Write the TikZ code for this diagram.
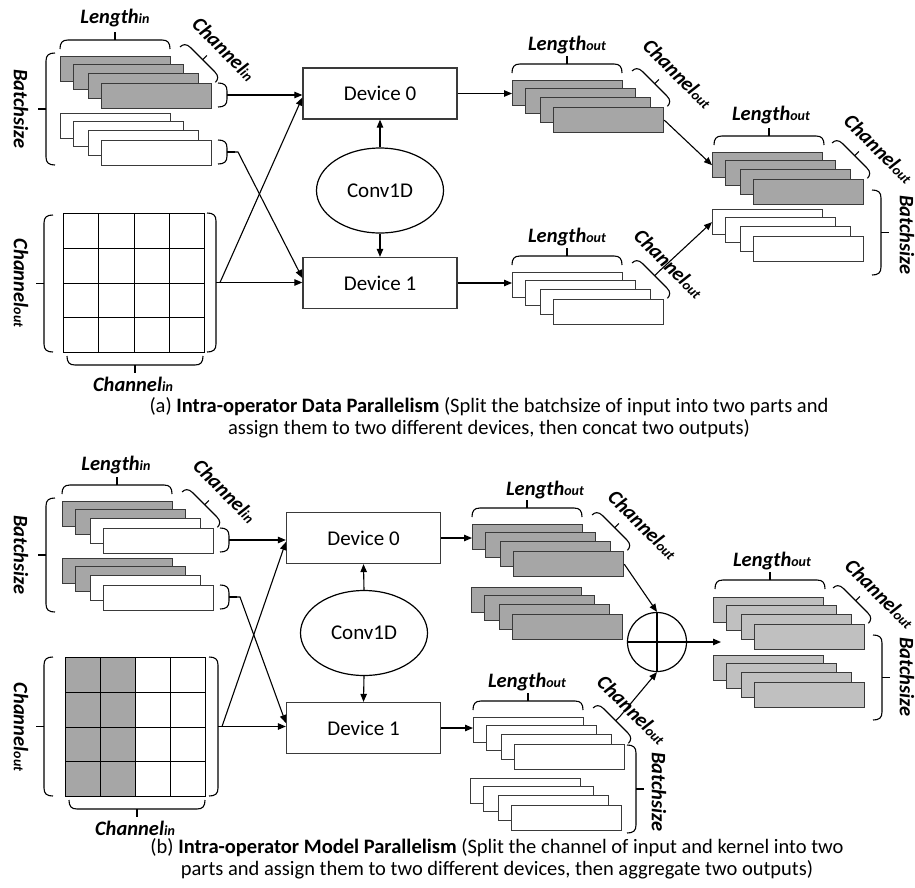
\documentclass[tikz,border=0pt]{standalone}
\usepackage{fontspec}
\setmainfont{Carlito}
\usetikzlibrary{arrows.meta,calc,shapes.geometric}

\definecolor{slab}{HTML}{A6A6A6}
\definecolor{slablight}{HTML}{C0C0C0}
\definecolor{edge}{HTML}{3A3A3A}

% dimension label: word plus a smaller suffix
\newcommand\dimlab[2]{#1{\fontsize{14}{14}\selectfont#2}}

% four offset slabs: name, x, y (top-left of the first one), four fills
\newcommand\slabs[7]{%
  \node[blk,fill=#4] (#1-1) at (#2,#3) {};
  \node[blk,fill=#5] (#1-2) at ({#2+13},{#3+8}) {};
  \node[blk,fill=#6] (#1-3) at ({#2+28},{#3+17}) {};
  \node[blk,fill=#7] (#1-4) at ({#2+41},{#3+27}) {};
}

\tikzset{
  >={Triangle[length=8pt,width=6.5pt]},
  blk/.style={draw=edge,line width=1.3pt,minimum width=110pt,minimum height=25pt,
    inner sep=0pt,anchor=north west},
  dev/.style={draw=edge,line width=1.3pt,minimum width=154pt,minimum height=51pt,
    inner sep=0pt,font=\fontsize{21}{24}\selectfont},
  convnode/.style={draw=black,line width=1.2pt,ellipse,minimum width=127pt,
    minimum height=85pt,inner sep=0pt,font=\fontsize{21}{24}\selectfont},
  conn/.style={line width=1.1pt,->},
  gridline/.style={line width=0.9pt},
  lab/.style={font=\fontsize{20.5}{24}\selectfont\bfseries\itshape,inner sep=0pt},
  captext/.style={font=\fontsize{20.5}{22}\selectfont,align=center,inner sep=0pt},
  brc tick/.initial=8,
  brc depth/.initial=9,
  % curly brace: flat side along x from 0 to #1, ends bent down, tick up
  brc/.pic={
    \def\bd{\pgfkeysvalueof{/tikz/brc depth}}
    \draw[line width=1.1pt] (0,\bd) .. controls (0,3) and (2,0) .. (8,0)
      -- ({#1-8},0) .. controls ({#1-2},0) and (#1,3) .. (#1,\bd);
    \draw[line width=1.1pt] ({#1/2},0) -- ({#1/2},{-\pgfkeysvalueof{/tikz/brc tick}});
    \coordinate (-tip) at ({#1/2},{-\pgfkeysvalueof{/tikz/brc tick}});
  },
  % diagonal brace beside a slab stack
  diagbrc/.style={rotate=-45,brc depth=7,brc tick=6},
}

\begin{document}
\begin{tikzpicture}[x=1pt,y=-1pt]
\useasboundingbox (0,0) rectangle (915,887);

% ================= (a) data parallelism =================
% input tensor
\slabs{ia1}{60}{56}{slab}{slab}{slab}{slab}
\slabs{ia2}{60}{113}{white}{white}{white}{white}
\pic at (60,40) {brc=110};
\node[lab] (lenIA) at (115,18) {\dimlab{Length}{in}};
\pic[diagbrc] at (185,42) {brc=50};
\node[lab,rotate=-45] (chIA) at (224,49) {\dimlab{Channel}{in}};
\pic (ra1) [rotate=-90] at (227,83) {brc=24};
\pic (ra2) [rotate=-90] at (227,140) {brc=24};
\pic[rotate=90] at (46,165) {brc=112};
\node[lab,rotate=-90] (bsIA) at (21,109) {Batchsize};

% kernel
\node[draw=black,gridline,minimum width=141pt,minimum height=139pt,inner sep=0pt,
  anchor=north west,fill=white] (kA) at (63,213) {};
\foreach \f in {0.25,0.5,0.75}{
  \draw[gridline] ($(kA.north west)!\f!(kA.north east)$) -- ($(kA.south west)!\f!(kA.south east)$);
  \draw[gridline] ($(kA.north west)!\f!(kA.south west)$) -- ($(kA.north east)!\f!(kA.south east)$);
}
\pic[rotate=90] at (44,352) {brc=137};
\node[lab,rotate=-90] (coKA) at (21,283) {\dimlab{Channel}{out}};
\pic (rg1) [rotate=-90,brc tick=4] at (216,213) {brc=139};
\pic[rotate=180] at (203,365) {brc=136};
\node[lab] (ciKA) at (133,384) {\dimlab{Channel}{in}};

% devices and operator
\node[dev] (devA0) at (380,93.5) {Device 0};
\node[dev] (devA1) at (380,283) {Device 1};
\node[convnode] (convA) at (380,190.5) {Conv1D};

% outputs of each device
\slabs{oa1}{512}{80}{slab}{slab}{slab}{slab}
\pic at (512,64) {brc=110};
\node[lab] (lenOA1) at (567,45) {\dimlab{Length}{out}};
\pic[diagbrc] at (637,66) {brc=50};
\node[lab,rotate=-45] (chOA1) at (678,74) {\dimlab{Channel}{out}};

\slabs{oa2}{512}{272}{white}{white}{white}{white}
\pic at (512,256) {brc=110};
\node[lab] (lenOA2) at (567,237) {\dimlab{Length}{out}};
\pic (cha2) [diagbrc] at (637,258) {brc=50};
\node[lab,rotate=-45] (chOA2) at (669,264) {\dimlab{Channel}{out}};

% concatenated output
\slabs{fa1}{712}{152}{slab}{slab}{slab}{slab}
\slabs{fa2}{712}{209}{white}{white}{white}{white}
\pic at (714,136) {brc=110};
\node[lab] (lenFA) at (771,115) {\dimlab{Length}{out}};
\pic[diagbrc] at (837,138) {brc=50};
\node[lab,rotate=-45] (chFA) at (879,149) {\dimlab{Channel}{out}};
\pic[rotate=-90] at (881,190) {brc=85};
\node[lab,rotate=-90] (bsFA) at (907,235) {Batchsize};

% connectors
\draw[conn] (ra1-tip) -- (ra1-tip -| devA0.west);
\draw[conn] (ra2-tip) -- ++(3,0) -- ($(devA1.west)+(0,-5)$);
\draw[conn] (rg1-tip) -- (rg1-tip -| devA1.west);
\draw[conn] (rg1-tip) -- ($(devA0.west)+(0,4)$);
\draw[conn] (convA.north) -- (devA0.south);
\draw[conn] (convA.south) -- (devA1.north);
\draw[conn] (devA0.east) -- (devA0.east -| oa1-1.west);
\draw[conn] (devA1.east) -- (devA1.east -| oa2-1.west);
\draw[conn] (oa1-4.east) -- (fa1-1.west);
\draw[conn] (cha2-tip) -- (fa2-1.west);

\node[captext] (capA) at (489,418) {(a) \textbf{Intra-operator Data Parallelism} (Split the batchsize of input into two parts and\\
  assign them to two different devices, then concat two outputs)};

% ================= (b) model parallelism =================
% input tensor
\slabs{ib1}{62}{501}{slab}{slab}{white}{white}
\slabs{ib2}{62}{558}{slab}{slab}{white}{white}
\pic at (62,485) {brc=110};
\node[lab] (lenIB) at (116,465) {\dimlab{Length}{in}};
\pic[diagbrc] at (187,487) {brc=50};
\node[lab,rotate=-45] (chIB) at (225,491) {\dimlab{Channel}{in}};
\pic (rb1) [rotate=-90] at (229,528) {brc=24};
\pic (rb2) [rotate=-90] at (229,585) {brc=24};
\pic[rotate=90] at (46,612) {brc=114};
\node[lab,rotate=-90] (bsIB) at (21,555) {Batchsize};

% kernel, first half of the input channels shaded
\node[gridline,minimum width=140pt,minimum height=139pt,inner sep=0pt,
  anchor=north west,fill=white] (kB) at (65,657) {};
\fill[slab] (kB.north west) rectangle ($(kB.south west)!0.5!(kB.south east)$);
\draw[gridline] (kB.north west) rectangle (kB.south east);
\foreach \f in {0.25,0.5,0.75}{
  \draw[gridline] ($(kB.north west)!\f!(kB.north east)$) -- ($(kB.south west)!\f!(kB.south east)$);
  \draw[gridline] ($(kB.north west)!\f!(kB.south west)$) -- ($(kB.north east)!\f!(kB.south east)$);
}
\pic[rotate=90] at (44,796) {brc=139};
\node[lab,rotate=-90] (coKB) at (21,727) {\dimlab{Channel}{out}};
\pic (rg2) [rotate=-90,brc tick=4] at (218,657) {brc=139};
\pic[rotate=180] at (205,809) {brc=136};
\node[lab] (ciKB) at (135,828) {\dimlab{Channel}{in}};

% devices and operator
\node[dev] (devB0) at (363.5,538) {Device 0};
\node[dev] (devB1) at (363.5,728) {Device 1};
\node[convnode] (convB) at (364,633) {Conv1D};

% partial outputs of device 0
\slabs{ob1}{472}{524}{slab}{slab}{slab}{slab}
\slabs{ob2}{471}{587}{slab}{slab}{slab}{slab}
\pic at (472,508) {brc=110};
\node[lab] (lenOB1) at (545,490) {\dimlab{Length}{out}};
\pic[diagbrc] at (597,510) {brc=50};
\node[lab,rotate=-45] (chOB1) at (643,525) {\dimlab{Channel}{out}};

% partial outputs of device 1
\slabs{ob3}{473}{717}{white}{white}{white}{white}
\slabs{ob4}{470}{778}{white}{white}{white}{white}
\pic at (473,701) {brc=110};
\node[lab] (lenOB3) at (527,682) {\dimlab{Length}{out}};
\pic (chb3) [diagbrc] at (598,703) {brc=50};
\node[lab,rotate=-45] (chOB3) at (632,710) {\dimlab{Channel}{out}};
\pic[rotate=-90] at (636,745) {brc=88};
\node[lab,rotate=-90] (bsOB3) at (659,792) {Batchsize};

% element-wise sum
\node[draw=black,line width=1.2pt,circle,minimum size=59pt,inner sep=0pt] (op) at (657,642) {};
\draw[line width=1.4pt] (op.north) -- (op.south);
\draw[line width=1.4pt] (op.west) -- (op.east);

% aggregated output
\slabs{fb1}{713}{597}{slablight}{slablight}{slablight}{slablight}
\slabs{fb2}{713}{655}{slablight}{slablight}{slablight}{slablight}
\pic at (715,580) {brc=110};
\node[lab] (lenFB) at (772,561) {\dimlab{Length}{out}};
\pic[diagbrc] at (838,583) {brc=50};
\node[lab,rotate=-45] (chFB) at (880,594) {\dimlab{Channel}{out}};
\pic[rotate=-90] at (882,635) {brc=85};
\node[lab,rotate=-90] (bsFB) at (907,677) {Batchsize};
\coordinate (opend) at (721,642);

% connectors
\draw[conn] (rb1-tip) -- (rb1-tip -| devB0.west);
\draw[conn] (rb2-tip) -- ++(3,0) -- ($(devB1.west)+(0,-5)$);
\draw[conn] (rg2-tip) -- (rg2-tip -| devB1.west);
\draw[conn] (rg2-tip) -- ($(devB0.west)+(0,4)$);
\draw[conn] (convB.north) -- (devB0.south);
\draw[conn] (convB.south) -- (devB1.north);
\draw[conn] (devB0.east) -- (devB0.east -| ob1-1.west);
\draw[conn] (devB1.east) -- (devB1.east -| ob3-1.west);
\draw[conn] (ob1-4.east) -- (op.north);
\draw[conn] (chb3-tip) -- (op.south);
\draw[conn] (op.east) -- (opend);

\node[captext] (capB) at (497,859) {(b) \textbf{Intra-operator Model Parallelism} (Split the channel of input and kernel into two\\
  parts and assign them to two different devices, then aggregate two outputs)};
\end{tikzpicture}
\end{document}
